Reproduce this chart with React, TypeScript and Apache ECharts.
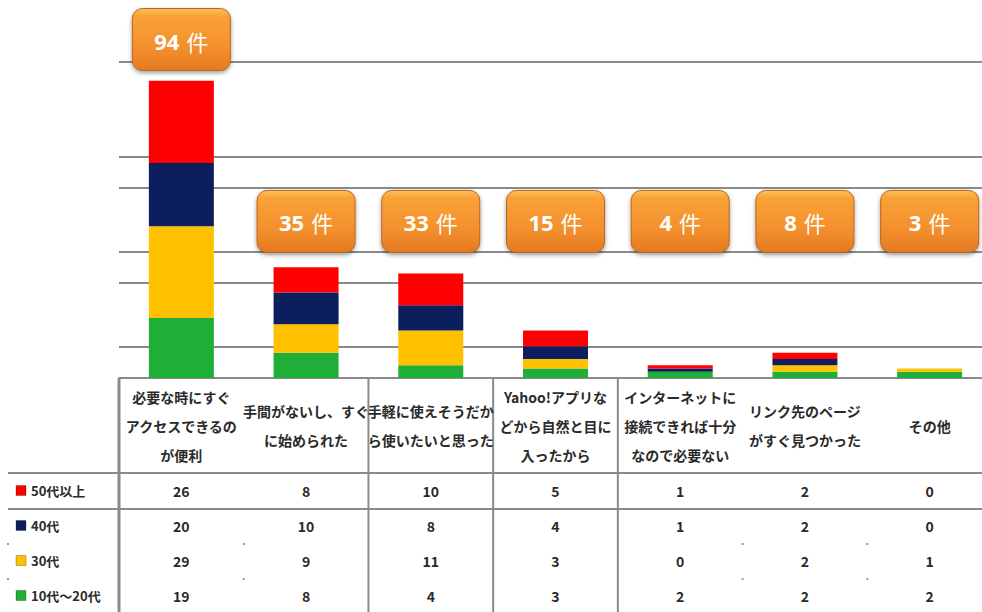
import React, { useEffect, useRef } from "react";
import * as echarts from "echarts";

const categories = [
  "必要な時にすぐ\nアクセスできるの\nが便利",
  "手間がないし、すぐ\nに始められた",
  "手軽に使えそうだか\nら使いたいと思った",
  "Yahoo!アプリな\nどから自然と目に\n入ったから",
  "インターネットに\n接続できれば十分\nなので必要ない",
  "リンク先のページ\nがすぐ見つかった",
  "その他",
];
const seriesNames = ["50代以上", "40代", "30代", "10代～20代"];
const s50 = [26, 8, 10, 5, 1, 2, 0];
const s40 = [20, 10, 8, 4, 1, 2, 0];
const s30 = [29, 9, 11, 3, 0, 2, 1];
const s10 = [19, 8, 4, 3, 2, 2, 2];
const gridValues = [10, 30, 40, 60, 70, 100];
const colors = ["#FF0000", "#0B1F5E", "#FFC000", "#1FAF38"];

const FONT = "'Noto Sans CJK JP', 'Noto Sans', sans-serif";

export default function App() {
  const ref = useRef<HTMLDivElement>(null);
  useEffect(() => {
    document.body.style.margin = "0";
    document.body.style.overflow = "hidden";
    const chart = echarts.init(ref.current!, null, { renderer: "svg" });
    const totals = categories.map((_, i) => s50[i] + s40[i] + s30[i] + s10[i]);
    const rows = [s50, s40, s30, s10];
    const barSeries = [
      { name: seriesNames[3], data: s10, color: colors[3] },
      { name: seriesNames[2], data: s30, color: colors[2] },
      { name: seriesNames[1], data: s40, color: colors[1] },
      { name: seriesNames[0], data: s50, color: colors[0] },
    ].map((s, k) => ({
      type: "bar",
      name: s.name,
      stack: "total",
      data: s.data,
      barWidth: 65,
      itemStyle: { color: s.color },
      z: 3,
      ...(k === 0
        ? {
            markLine: {
              silent: true,
              symbol: "none",
              label: { show: false },
              lineStyle: { color: "#8a8a8a", width: 2, type: "solid" },
              data: gridValues.map((v) => ({ yAxis: v })),
              z: 1,
            },
          }
        : {}),
    }));

    const boxGradient = new echarts.graphic.LinearGradient(0, 0, 0, 1, [
      { offset: 0, color: "#FCC25A" },
      { offset: 0.12, color: "#F9A236" },
      { offset: 0.6, color: "#F4912E" },
      { offset: 1, color: "#E57A22" },
    ]);

    const option: any = {
      animation: false,
      grid: { left: 119, top: 0, width: 873, height: 378 },
      xAxis: {
        type: "category",
        data: categories,
        axisLine: { show: true, lineStyle: { color: "#8a8a8a", width: 2 } },
        axisTick: { show: false },
        axisLabel: { show: false },
      },
      yAxis: {
        type: "value",
        min: 0,
        max: 119.5,
        show: false,
        splitLine: { show: false },
      },
      series: [
        ...barSeries,
        {
          type: "custom",
          name: "total",
          data: totals.map((t, i) => [i, t, Math.max(t + 13, 49.5)]),
          z: 10,
          renderItem: (params: any, api: any) => {
            const t = api.value(1);
            const p = api.coord([api.value(0), api.value(2)]);
            return {
              type: "group",
              children: [
                {
                  type: "rect",
                  shape: { x: p[0] - 49, y: p[1] - 31, width: 98, height: 62, r: 10 },
                  style: {
                    fill: boxGradient,
                    stroke: "#B9661E",
                    lineWidth: 1,
                    shadowBlur: 4,
                    shadowOffsetY: 2,
                    shadowColor: "rgba(0,0,0,0.4)",
                  },
                },
                {
                  type: "text",
                  style: {
                    x: p[0],
                    y: p[1] + 1,
                    align: "center",
                    verticalAlign: "middle",
                    text: `{n|${t}}{u|件}`,
                    rich: {
                      n: { fontSize: 22, fontWeight: "bold", fill: "#fff", fontFamily: "'Open Sans', 'Noto Sans', sans-serif" },
                      u: { fontSize: 22, fontWeight: "normal", fill: "#fff", fontFamily: FONT, padding: [0, 0, 0, 7] },
                    },
                  },
                },
              ],
            };
          },
        },
      ],
    };
    chart.setOption(option);

    // table
    const x0 = chart.convertToPixel({ xAxisIndex: 0 }, 0) as number;
    const x1 = chart.convertToPixel({ xAxisIndex: 0 }, 1) as number;
    const catW = x1 - x0;
    const left = x0 - catW / 2;
    const tableTop = chart.convertToPixel({ yAxisIndex: 0 }, 0) as number;
    const headerBottom = tableTop + 95;
    const rowH = 35;
    const lineColor = "#8a8a8a";
    const g: any[] = [];
    const bound = (k: number) => left + k * catW;
    [0, 2, 3, 4].forEach((k) => {
      g.push({
        type: "line",
        shape: { x1: bound(k), y1: tableTop, x2: bound(k), y2: 612 },
        style: { stroke: lineColor, lineWidth: k === 0 ? 3 : 2 },
      });
    });
    [0, 1].forEach((r) => {
      const y = headerBottom + r * rowH + (r === 1 ? 1 : 0);
      g.push({
        type: "line",
        shape: { x1: 8, y1: y, x2: 995, y2: y },
        style: { stroke: lineColor, lineWidth: 2 },
      });
    });
    [8, bound(1), bound(5), bound(6)].forEach((x) => {
      [2, 3].forEach((r) => {
        const y = headerBottom + r * rowH + 1;
        g.push({ type: "rect", shape: { x: x - 1, y: y - 1, width: 2, height: 2 }, style: { fill: "#9a9a9a" } });
      });
    });
    categories.forEach((c, i) => {
      const cx = chart.convertToPixel({ xAxisIndex: 0 }, i) as number;
      g.push({
        type: "text",
        style: {
          x: cx,
          y: (tableTop + headerBottom) / 2,
          align: "center",
          verticalAlign: "middle",
          text: c,
          lineHeight: 29,
          fontSize: 14,
          fontWeight: "bold",
          fontFamily: FONT,
          fill: "#2a2a2a",
        },
      });
    });
    rows.forEach((vals, r) => {
      const cy = headerBottom + r * rowH + rowH / 2;
      g.push({
        type: "rect",
        shape: { x: 16, y: cy - 5, width: 10, height: 10 },
        style: { fill: colors[r], stroke: "rgba(0,0,0,0.25)", lineWidth: 1 },
      });
      g.push({
        type: "text",
        style: {
          x: 31,
          y: cy,
          align: "left",
          verticalAlign: "middle",
          text: seriesNames[r],
          fontSize: 13,
          fontWeight: "bold",
          fontFamily: FONT,
          fill: "#2a2a2a",
        },
      });
      vals.forEach((v, i) => {
        const cx = chart.convertToPixel({ xAxisIndex: 0 }, i) as number;
        g.push({
          type: "text",
          style: {
            x: cx,
            y: cy,
            align: "center",
            verticalAlign: "middle",
            text: String(v),
            fontSize: 14,
            fontWeight: "bold",
            fontFamily: FONT,
            fill: "#2a2a2a",
          },
        });
      });
    });
    chart.setOption({ graphic: g });

    return () => chart.dispose();
  }, []);
  return (
    <div
      ref={ref}
      style={{ position: "fixed", left: 0, top: 0, width: 995, height: 612, background: "#fff" }}
    />
  );
}
